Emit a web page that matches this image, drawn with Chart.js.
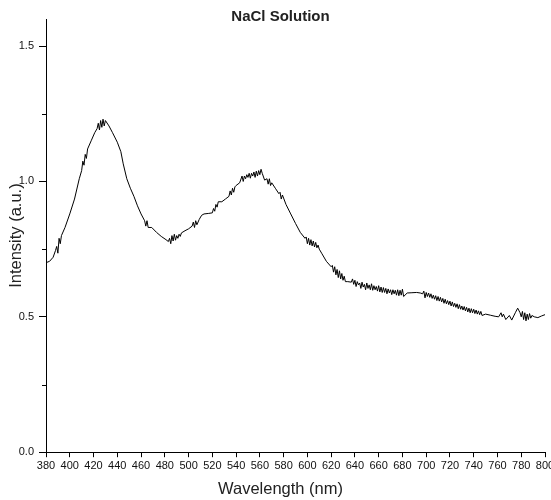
<!DOCTYPE html>
<html>
<head>
<meta charset="utf-8">
<script src="https://cdn.jsdelivr.net/npm/chart.js@4.4.1/dist/chart.umd.min.js"></script>
<style>
  html, body { margin: 0; padding: 0; background: #fff; }
  canvas { display: block; }
</style>
</head>
<body>
<canvas id="spectrumChart" width="551" height="500"></canvas>
<script>
// NaCl solution emission spectrum
const chartTitle = 'NaCl Solution';
const xTitle = 'Wavelength (nm)';
const yTitle = 'Intensity (a.u.)';

const wavelength = [
    380, 383, 386, 388, 389, 390, 391, 392, 393,
    396, 400, 404, 408, 410, 411, 412, 413, 414, 415,
    418, 421, 423, 424, 425, 426, 427, 428, 429, 430,
    433, 436, 440, 443, 445, 448, 451, 454, 457, 460,
    463, 464, 465, 466, 469, 473, 477, 481, 483,
    484, 485, 486, 487, 488, 489, 490, 491, 492, 493, 494,
    497, 500, 503, 504, 505, 506, 507, 509, 511, 513, 517, 520,
    521, 522, 523, 524, 525, 528, 531, 534, 535, 536, 537, 538, 539, 540, 543,
    545, 546, 547, 548, 549, 550, 551, 552, 553, 554, 555, 556, 557, 558, 559, 560, 561, 562,
    564, 566, 567, 568, 569, 570, 573, 576, 577, 578, 579,
    582, 586, 590, 594, 598,
    599, 600, 601, 602, 603, 604, 605, 606, 607, 608, 609, 610,
    612, 616, 620,
    621, 622, 623, 624, 625, 626, 627, 628, 629, 630, 631, 632,
    634, 637,
    638, 639, 640, 641, 642, 643, 644, 645, 646, 647, 648, 649, 650, 651, 652, 653, 654, 655, 656, 657, 658, 659,
    660, 661, 662, 663, 664, 665, 666, 667, 668, 669, 670, 671, 672, 673, 674, 675, 676, 677, 678, 679, 680, 681,
    684, 688, 692, 695, 697,
    698, 699, 700, 701, 702, 703, 704, 705, 706, 707, 708, 709, 710, 711, 712, 713, 714, 715, 716, 717, 718, 719, 720, 721, 722,
    723, 724, 725, 726, 727, 728, 729, 730, 731, 732, 733, 734, 735, 736, 737, 738, 739, 740, 741, 742, 743, 744, 745, 746, 747,
    750, 754, 758, 761,
    763, 764, 765, 767, 770, 772, 775, 777, 779, 780, 781, 782, 783, 784, 785, 786, 787, 788, 789, 791, 794, 797, 800
];

const intensity = [
    0.700, 0.705, 0.720, 0.745, 0.760, 0.735, 0.790, 0.770, 0.800,
    0.830, 0.880, 0.935, 1.010, 1.040, 1.075, 1.060, 1.100, 1.085, 1.120,
    1.150, 1.180, 1.195, 1.215, 1.190, 1.225, 1.200, 1.230, 1.205, 1.225,
    1.205, 1.180, 1.145, 1.110, 1.065, 1.010, 0.975, 0.945, 0.910, 0.880,
    0.855, 0.835, 0.855, 0.830, 0.830, 0.812, 0.797, 0.785, 0.778,
    0.790, 0.770, 0.800, 0.780, 0.805, 0.783, 0.800, 0.790, 0.805, 0.797, 0.810,
    0.818, 0.825, 0.835, 0.850, 0.830, 0.855, 0.840, 0.860, 0.875, 0.880, 0.882, 0.884,
    0.900, 0.890, 0.915, 0.905, 0.925, 0.925, 0.935, 0.945, 0.965, 0.950, 0.975, 0.960, 0.980, 0.985, 0.995,
    1.020, 1.000, 1.020, 1.010, 1.025, 1.015, 1.030, 1.012, 1.030, 1.020, 1.035, 1.015, 1.038, 1.020, 1.040, 1.025, 1.045, 1.030,
    1.005, 1.010, 0.990, 1.010, 0.985, 0.995, 0.975, 0.955, 0.960, 0.935, 0.950,
    0.915, 0.880, 0.845, 0.812, 0.790,
    0.795, 0.770, 0.790, 0.765, 0.785, 0.762, 0.780, 0.758, 0.775, 0.755, 0.765, 0.750,
    0.735, 0.705, 0.685,
    0.690, 0.665, 0.685, 0.655, 0.675, 0.645, 0.670, 0.640, 0.660, 0.635, 0.650, 0.630,
    0.630, 0.628,
    0.640, 0.620, 0.635, 0.612, 0.630, 0.618, 0.625, 0.605, 0.628, 0.610, 0.620, 0.600, 0.625, 0.605, 0.618, 0.600, 0.622, 0.598, 0.615, 0.600, 0.612, 0.595,
    0.615, 0.592, 0.610, 0.590, 0.608, 0.590, 0.605, 0.585, 0.603, 0.588, 0.600, 0.582, 0.600, 0.585, 0.598, 0.580, 0.600, 0.578, 0.598, 0.580, 0.602, 0.575,
    0.588, 0.589, 0.590, 0.588, 0.585,
    0.595, 0.570, 0.590, 0.575, 0.588, 0.572, 0.585, 0.568, 0.580, 0.565, 0.578, 0.560, 0.575, 0.558, 0.572, 0.555, 0.568, 0.550, 0.565, 0.548, 0.560, 0.545, 0.558, 0.540, 0.555,
    0.538, 0.550, 0.535, 0.548, 0.530, 0.545, 0.528, 0.540, 0.525, 0.538, 0.522, 0.535, 0.518, 0.532, 0.515, 0.530, 0.515, 0.528, 0.512, 0.525, 0.510, 0.522, 0.508, 0.520, 0.505,
    0.510, 0.506, 0.502, 0.500,
    0.515, 0.500, 0.510, 0.490, 0.505, 0.488, 0.515, 0.532, 0.515, 0.500, 0.520, 0.490, 0.515, 0.485, 0.510, 0.490, 0.512, 0.495, 0.505, 0.500, 0.497, 0.503, 0.508
];

const xMin = 380, xMax = 800, xStep = 20;
const yMin = 0, yMax = 1.6, yStep = 0.5;

let points = [];
wavelength.forEach((w, i) => {
    points.push({x: w, y: intensity[i]});
});

// short ticks half way between the labelled ones on the y axis
const minorTicks = {
    id: 'minorTicks',
    afterDraw(chart) {
        let yScale = chart.scales.y;
        let ctx = chart.ctx;
        ctx.save();
        ctx.strokeStyle = '#000';
        ctx.lineWidth = 1;
        ctx.beginPath();
        for (let i = 1; i < yScale.ticks.length; i++) {
            let v = (yScale.ticks[i - 1].value + yScale.ticks[i].value) / 2;
            let py = Math.round(yScale.getPixelForValue(v)) + 0.5;
            ctx.moveTo(yScale.right - 4, py);
            ctx.lineTo(yScale.right, py);
        }
        ctx.stroke();
        ctx.restore();
    }
};

const fontFamily = "'Liberation Sans', Arial, sans-serif";

new Chart(document.getElementById('spectrumChart'), {
    type: 'line',
    data: {
        datasets: [{
            data: points,
            borderColor: '#000',
            borderWidth: 1,
            pointRadius: 0,
            fill: false,
            tension: 0
        }]
    },
    options: {
        responsive: false,
        animation: false,
        layout: {
            padding: {left: 16, right: 6, top: 0, bottom: 0}
        },
        plugins: {
            legend: {display: false},
            tooltip: {enabled: false},
            title: {
                display: true,
                text: chartTitle,
                color: '#222',
                font: {family: fontFamily, size: 15, weight: 'bold'},
                padding: {top: 8, bottom: -7}
            },
            subtitle: {
                display: true,
                position: 'bottom',
                text: xTitle,
                color: '#222',
                font: {family: fontFamily, size: 16.5, weight: 'normal'},
                padding: {top: 0, bottom: 1}
            }
        },
        scales: {
            x: {
                type: 'linear',
                min: xMin,
                max: xMax,
                grid: {
                    drawOnChartArea: false,
                    drawTicks: true,
                    tickLength: 5,
                    tickColor: '#000'
                },
                border: {display: true, color: '#000', width: 1},
                ticks: {
                    stepSize: xStep,
                    autoSkip: false,
                    maxRotation: 0,
                    padding: 2,
                    color: '#111',
                    font: {family: fontFamily, size: 11}
                },
                afterFit: (scale) => {
                    scale.height = 27;
                    scale.paddingLeft = 0;
                    scale.paddingRight = 0;
                }
            },
            y: {
                type: 'linear',
                min: yMin,
                max: yMax,
                grid: {
                    drawOnChartArea: false,
                    drawTicks: true,
                    tickLength: 7,
                    tickColor: '#000'
                },
                border: {display: true, color: '#000', width: 1},
                ticks: {
                    stepSize: yStep,
                    includeBounds: false,
                    padding: 5,
                    color: '#111',
                    font: {family: fontFamily, size: 11},
                    callback: (v) => v.toFixed(1)
                },
                title: {
                    display: true,
                    text: yTitle,
                    color: '#222',
                    font: {family: fontFamily, size: 16.5},
                    padding: {top: -9, bottom: 0}
                },
                afterFit: (scale) => {
                    scale.width = 30;
                    scale.paddingTop = 0;
                    scale.paddingBottom = 0;
                }
            }
        }
    },
    plugins: [minorTicks]
});
</script>
</body>
</html>
